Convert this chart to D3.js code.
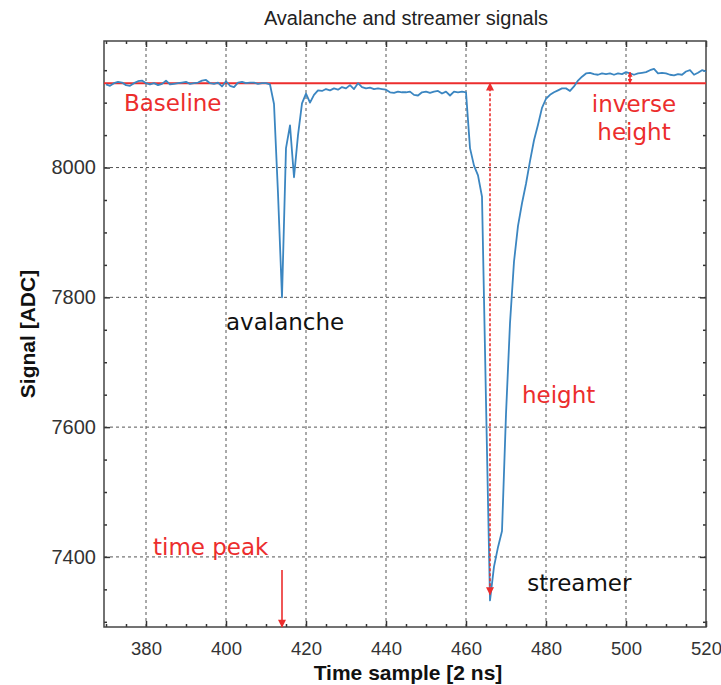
<!DOCTYPE html>
<html>
<head>
<meta charset="utf-8">
<script src="https://cdn.jsdelivr.net/npm/d3@7"></script>
<style>
  body { margin: 0; background: #fff; }
</style>
</head>
<body>
<div id="chart"></div>
<script>
const WIDTH = 721;
const HEIGHT = 685;
const MARGIN = { top: 41, right: 15, bottom: 58, left: 104 };

// samples 370 .. 520, one value per time sample
const firstSample = 370;
const signal = [
  8128, 8126, 8130, 8132, 8131, 8127, 8126, 8130, 8133, 8134, // 370
  8130, 8128, 8130, 8127, 8129, 8134, 8128, 8129, 8130, 8131, // 380
  8132, 8129, 8130, 8131, 8134, 8135, 8130, 8129, 8131, 8125, // 390
  8133, 8126, 8124, 8131, 8132, 8130, 8131, 8131, 8129, 8130, // 400
  8130, 8128, 8098, 7960, 7800, 8030, 8065, 7985, 8050, 8099, // 410
  8114, 8100, 8112, 8119, 8118, 8121, 8119, 8122, 8120, 8124, // 420
  8122, 8127, 8121, 8130, 8124, 8122, 8123, 8121, 8122, 8121, // 430
  8120, 8116, 8115, 8117, 8116, 8116, 8117, 8112, 8111, 8116, // 440
  8117, 8115, 8117, 8118, 8114, 8117, 8111, 8117, 8116, 8117, // 450
  8116, 8030, 8003, 7988, 7955, 7640, 7333, 7385, 7415, 7440, // 460
  7620, 7760, 7855, 7910, 7945, 7975, 8010, 8042, 8066, 8092, // 470
  8106, 8112, 8116, 8119, 8122, 8122, 8118, 8125, 8134, 8140, // 480
  8145, 8146, 8144, 8143, 8145, 8144, 8145, 8143, 8145, 8144, // 490
  8147, 8145, 8143, 8145, 8146, 8147, 8150, 8152, 8145, 8146, // 500
  8145, 8143, 8142, 8144, 8143, 8148, 8150, 8143, 8146, 8150, // 510
  8148                                                        // 520
];

const xTicks = [380, 400, 420, 440, 460, 480, 500, 520];
const yTicks = [7400, 7600, 7800, 8000];

const baselineValue = 8130;
const timePeak = 414;
const streamerPeak = 466;
const streamerMin = 7333;
const inverseAt = 501;
const inverseTop = 8147;

const data = signal.map((v, i) => ({ t: firstSample + i, v: v }));

const RED = "#ec2d2d";
const BLUE = "#3b86c1";

const svg = d3.select("#chart").append("svg")
  .attr("width", WIDTH)
  .attr("height", HEIGHT)
  .style("background-color", "#fff");

const x = d3.scaleLinear()
  .domain([369.5, 520])
  .range([MARGIN.left, WIDTH - MARGIN.right]);

const y = d3.scaleLinear()
  .domain([7292, 8195])
  .range([HEIGHT - MARGIN.bottom, MARGIN.top]);

const x0 = x.range()[0], x1 = x.range()[1];
const y0 = y.range()[0], y1 = y.range()[1];

// arrow heads
const defs = svg.append("defs");
defs.append("marker")
  .attr("id", "head")
  .attr("viewBox", "0 0 10 10")
  .attr("refX", 9)
  .attr("refY", 5)
  .attr("markerUnits", "userSpaceOnUse")
  .attr("markerWidth", 11)
  .attr("markerHeight", 8)
  .attr("orient", "auto-start-reverse")
  .append("path")
    .attr("d", "M0,0 L10,5 L0,10 z")
    .attr("fill", RED);

defs.append("marker")
  .attr("id", "headSmall")
  .attr("viewBox", "0 0 10 10")
  .attr("refX", 9)
  .attr("refY", 5)
  .attr("markerUnits", "userSpaceOnUse")
  .attr("markerWidth", 5)
  .attr("markerHeight", 5)
  .attr("orient", "auto-start-reverse")
  .append("path")
    .attr("d", "M0,0 L10,5 L0,10 z")
    .attr("fill", RED);

// grid
const grid = svg.append("g");
grid.selectAll("line.gx")
  .data(xTicks.filter(d => d < 520))
  .join("line")
    .attr("class", "gx")
    .attr("x1", d => x(d)).attr("x2", d => x(d))
    .attr("y1", y0).attr("y2", y1)
    .attr("stroke", "#555")
    .attr("stroke-width", 1)
    .attr("stroke-dasharray", "3,3");

grid.selectAll("line.gy")
  .data(yTicks)
  .join("line")
    .attr("class", "gy")
    .attr("x1", x0).attr("x2", x1)
    .attr("y1", d => y(d)).attr("y2", d => y(d))
    .attr("stroke", "#555")
    .attr("stroke-width", 1)
    .attr("stroke-dasharray", "3,3");

// axes, ticks pointing inward
const minorX = d3.range(370, 521, 5).filter(d => d % 20 !== 0);
const minorY = d3.range(7300, 8200, 50).filter(d => d % 200 !== 0);

function styleAxis(size) {
  return function (g) {
    g.select(".domain").remove();
    g.selectAll(".tick line").attr("stroke", "#333").attr("stroke-width", 1.5);
    g.selectAll("text")
      .attr("fill", "#333")
      .attr("font-family", "Liberation Sans, Arial, sans-serif")
      .attr("font-size", size);
  };
}

svg.append("g")
  .attr("transform", `translate(0, ${y0})`)
  .call(d3.axisBottom(x).tickValues(xTicks).tickSize(-6).tickPadding(15).tickFormat(d3.format("d")))
  .call(styleAxis(18.5));
svg.append("g")
  .attr("transform", `translate(0, ${y0})`)
  .call(d3.axisBottom(x).tickValues(minorX).tickSize(-3).tickFormat(""))
  .call(styleAxis(18.5));
svg.append("g")
  .attr("transform", `translate(0, ${y1})`)
  .call(d3.axisTop(x).tickValues(xTicks).tickSize(-6).tickFormat(""))
  .call(styleAxis(18.5));
svg.append("g")
  .attr("transform", `translate(0, ${y1})`)
  .call(d3.axisTop(x).tickValues(minorX).tickSize(-3).tickFormat(""))
  .call(styleAxis(18.5));

svg.append("g")
  .attr("transform", `translate(${x0}, 0)`)
  .call(d3.axisLeft(y).tickValues(yTicks).tickSize(-6).tickPadding(8).tickFormat(d3.format("d")))
  .call(styleAxis(20));
svg.append("g")
  .attr("transform", `translate(${x0}, 0)`)
  .call(d3.axisLeft(y).tickValues(minorY).tickSize(-3).tickFormat(""))
  .call(styleAxis(20));
svg.append("g")
  .attr("transform", `translate(${x1}, 0)`)
  .call(d3.axisRight(y).tickValues(yTicks).tickSize(-6).tickFormat(""))
  .call(styleAxis(20));
svg.append("g")
  .attr("transform", `translate(${x1}, 0)`)
  .call(d3.axisRight(y).tickValues(minorY).tickSize(-3).tickFormat(""))
  .call(styleAxis(20));

// frame
svg.append("rect")
  .attr("x", x0).attr("y", y1)
  .attr("width", x1 - x0).attr("height", y0 - y1)
  .attr("fill", "none")
  .attr("stroke", "#444")
  .attr("stroke-width", 1.5);

// baseline
svg.append("line")
  .attr("x1", x0).attr("x2", x1)
  .attr("y1", y(baselineValue)).attr("y2", y(baselineValue))
  .attr("stroke", RED)
  .attr("stroke-width", 2);

// signal
const line = d3.line()
  .x(d => x(d.t))
  .y(d => y(d.v));

svg.append("path")
  .datum(data)
  .attr("d", line)
  .attr("fill", "none")
  .attr("stroke", BLUE)
  .attr("stroke-width", 1.8)
  .attr("stroke-linejoin", "round");

// height arrow (dashed, both ends)
svg.append("line")
  .attr("x1", x(streamerPeak)).attr("x2", x(streamerPeak))
  .attr("y1", y(baselineValue)).attr("y2", y(streamerMin) - 6)
  .attr("stroke", RED)
  .attr("stroke-width", 1.6)
  .attr("stroke-dasharray", "3,2")
  .attr("marker-start", "url(#head)")
  .attr("marker-end", "url(#head)");

// time peak arrow
svg.append("line")
  .attr("x1", x(timePeak)).attr("x2", x(timePeak))
  .attr("y1", y(7380)).attr("y2", y0)
  .attr("stroke", RED)
  .attr("stroke-width", 1.6)
  .attr("marker-end", "url(#head)");

// inverse height arrow
svg.append("line")
  .attr("x1", x(inverseAt)).attr("x2", x(inverseAt))
  .attr("y1", y(baselineValue)).attr("y2", y(inverseTop))
  .attr("stroke", RED)
  .attr("stroke-width", 1.5)
  .attr("marker-start", "url(#headSmall)")
  .attr("marker-end", "url(#headSmall)");

// annotations
function note(text, t, v, color, anchor) {
  svg.append("text")
    .attr("x", x(t))
    .attr("y", y(v))
    .attr("fill", color)
    .attr("text-anchor", anchor || "start")
    .attr("font-family", "DejaVu Sans, Verdana, sans-serif")
    .attr("font-size", 23)
    .text(text);
}

note("Baseline", 374.5, 8087, RED);
note("inverse", 502, 8085, RED, "middle");
note("height", 502, 8042, RED, "middle");
note("avalanche", 400, 7750, "#111");
note("height", 474, 7637, RED);
note("time peak", 381.75, 7403, RED);
note("streamer", 475.3, 7347, "#111");

// title and axis labels
svg.append("text")
  .attr("x", 406)
  .attr("y", 25)
  .attr("text-anchor", "middle")
  .attr("fill", "#222")
  .attr("font-family", "Liberation Sans, Arial, sans-serif")
  .attr("font-size", 20)
  .text("Avalanche and streamer signals");

svg.append("text")
  .attr("x", (x0 + x1) / 2 + 3)
  .attr("y", 680)
  .attr("text-anchor", "middle")
  .attr("fill", "#111")
  .attr("font-family", "Liberation Sans, Arial, sans-serif")
  .attr("font-weight", "bold")
  .attr("font-size", 21)
  .text("Time sample [2 ns]");

svg.append("text")
  .attr("transform", `translate(35, ${(y0 + y1) / 2}) rotate(-90)`)
  .attr("text-anchor", "middle")
  .attr("fill", "#111")
  .attr("font-family", "Liberation Sans, Arial, sans-serif")
  .attr("font-weight", "bold")
  .attr("font-size", 21)
  .text("Signal [ADC]");
</script>
</body>
</html>
